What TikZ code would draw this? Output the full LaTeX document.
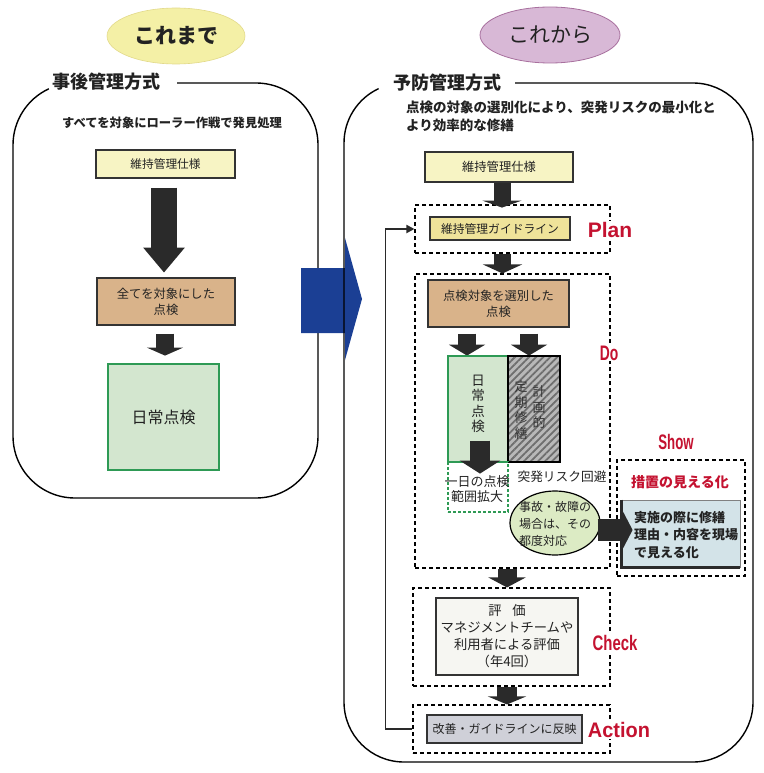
\documentclass[tikz,border=0pt]{standalone}
\usepackage{fontspec}
\usepackage{graphicx}
\setmainfont{Noto Sans CJK JP}
\newfontfamily\lat{Liberation Sans}
\usetikzlibrary{shapes.geometric,patterns.meta,arrows.meta}
\definecolor{txt}{HTML}{222222}
\definecolor{boxln}{HTML}{333333}
\definecolor{arrowc}{HTML}{2A2A2A}
\definecolor{yell}{HTML}{F4F0A6}
\definecolor{yellbd}{HTML}{E2D98A}
\definecolor{purp}{HTML}{D8B8D6}
\definecolor{purpbd}{HTML}{A8709E}
\definecolor{ltyell}{HTML}{F7F4C4}
\definecolor{gdyell}{HTML}{EFE39A}
\definecolor{tanc}{HTML}{D9B38A}
\definecolor{ltgrn}{HTML}{D3E6CF}
\definecolor{grn}{HTML}{2E9A55}
\definecolor{bluearr}{HTML}{1B3F94}
\definecolor{pdcared}{HTML}{C41230}
\definecolor{ltblue}{HTML}{D3E3E8}
\definecolor{actgray}{HTML}{CFD0D8}
\definecolor{evalc}{HTML}{F6F6F2}
\definecolor{ellgrn}{HTML}{DCEBC4}
\definecolor{hatchbg}{HTML}{B8B8B8}
\definecolor{hatchln}{HTML}{6E6E6E}
\begin{document}
\begin{tikzpicture}[x=1pt,y=-1pt,
  every node/.style={inner sep=0pt, text=txt},
  frame/.style={draw=black, line width=1.4pt},
  box/.style={draw=boxln, line width=1.2pt, align=center, font=\fontsize{12.3}{16}\selectfont},
  dbox/.style={draw=black, dash pattern=on 4pt off 3pt, line width=1.1pt},
  pdca/.style={fill=white, inner sep=1pt, text=pdcared, font=\lat\bfseries\fontsize{21}{21}\selectfont},
  blk/.style n args={3}{draw=arrowc, line width=#1, -{Triangle[width=#2,length=#3]}},
]
\useasboundingbox (0,0) rectangle (763,773);

% ================= LEFT =================
\node[ellipse, fill=yell, draw=yellbd, line width=0.6pt, minimum width=138, minimum height=56,
      font=\bfseries\fontsize{21}{21}\selectfont] (e1) at (176,36) {これまで};
\node[anchor=west, font=\bfseries\fontsize{18}{18}\selectfont] (t1) at (52,82) {事後管理方式};
\draw[frame] (177,83) -- (256,83) arc[start angle=-90,end angle=0,radius=62]
  -- (318,436) arc[start angle=0,end angle=90,radius=62]
  -- (75,498) arc[start angle=90,end angle=180,radius=62]
  -- (13,145) arc[start angle=180,end angle=245,radius=62];
\node[font=\bfseries\fontsize{12.3}{14}\selectfont] (s1) at (172,123) {すべてを対象にローラー作戦で発見処理};
\node[box, fill=ltyell, minimum width=139, minimum height=28, font=\fontsize{11.7}{14}\selectfont] (spec1) at (165.5,164) {維持管理仕様};
\node[box, fill=tanc, minimum width=138, minimum height=47] (insp1) at (166,301.5) {全てを対象にした\\点検};
\node[box, draw=grn, fill=ltgrn, minimum width=111, minimum height=106, font=\fontsize{16}{18}\selectfont] (daily1) at (163.5,417) {日常点検};
\draw[blk={26pt}{40pt}{25pt}] ([xshift=-1.5pt]spec1.south) ++(0,9) -- ++(0,85);
\draw[blk={18pt}{36pt}{8pt}] ([xshift=-1pt]insp1.south) ++(0,8) -- ++(0,22);

% ================= BIG BLUE ARROW =================
\fill[bluearr] (301,268) -- (345,268) -- (345,238) -- (362,299) -- (345,360) -- (345,333) -- (301,333) -- cycle;

% ================= RIGHT =================
\node[ellipse, fill=purp, draw=purpbd, line width=0.8pt, minimum width=140, minimum height=56,
      font=\fontsize{21}{21}\selectfont] (e2) at (550,35) {これから};
\node[anchor=west, font=\bfseries\fontsize{18}{18}\selectfont] (t2) at (393,83) {予防管理方式};
\draw[frame] (515,83) -- (693,83) arc[start angle=-90,end angle=0,radius=60]
  -- (753,702) arc[start angle=0,end angle=90,radius=60]
  -- (404,762) arc[start angle=90,end angle=180,radius=60]
  -- (344,143) arc[start angle=180,end angle=245,radius=60];
\node[anchor=north west, align=left, font=\bfseries\fontsize{13.5}{18}\selectfont] (s2) at (406,101)
  {点検の対象の選別化により、突発リスクの最小化と\\より効率的な修繕};

\node[box, fill=ltyell, minimum width=148, minimum height=30] (spec2) at (499,167) {維持管理仕様};

% Plan
\node[dbox, minimum width=195, minimum height=48] (planD) at (512.5,229) {};
\node[box, fill=gdyell, minimum width=140, minimum height=23, font=\fontsize{11.8}{14}\selectfont] (guide) at (500,228.5) {維持管理ガイドライン};
\node[pdca] (plan) at (610,230) {Plan};
\draw[blk={17pt}{39pt}{7pt}] ([xshift=3pt]spec2.south) -- ++(0,25);

% Do
\node[dbox, minimum width=195, minimum height=294] (doD) at (512.5,421) {};
\node[pdca] (do) at (609,353) {\scalebox{0.66}[1]{Do}};
\draw[blk={17pt}{39pt}{9pt}] ([xshift=-10pt]planD.south) -- ([xshift=-10pt]doD.north);
\node[box, fill=tanc, minimum width=141, minimum height=47] (insp2) at (498.5,303.5) {点検対象を選別した\\点検};
\draw[blk={18pt}{36pt}{11pt}] ([xshift=-31.5pt]insp2.south) ++(0,6) -- ++(0,22);
\draw[blk={18pt}{36pt}{11pt}] ([xshift=30.5pt]insp2.south) ++(0,6) -- ++(0,22);

\node[draw=grn, line width=1.2pt, fill=ltgrn, minimum width=60, minimum height=106] (daily2) at (478,409) {};
\node[align=center, font=\fontsize{13.5}{15.5}\selectfont] (daily2t) at (478,404) {日\\常\\点\\検};
\node[draw=black, line width=1.2pt, minimum width=52, minimum height=106,
      preaction={fill=hatchbg},
      pattern={Lines[angle=45,distance=5pt,line width=1.8pt]}, pattern color=hatchln] (hatch) at (534,409) {};
\node[align=center, text=black!80, font=\fontsize{13}{15.5}\selectfont] (hatchR) at (539,407) {計\\画\\的};
\node[align=center, text=black!80, font=\fontsize{13}{15.5}\selectfont] (hatchL) at (521,410) {定\\期\\修\\繕};

\node[draw=grn, dash pattern=on 3pt off 2pt, line width=1.1pt, minimum width=60, minimum height=50] (extD) at (478,487) {};
\node[align=center, font=\fontsize{13}{15}\selectfont] (extT) at (477,489.5) {一日の点検\\範囲拡大};
\draw[blk={20pt}{40pt}{13pt}] ([xshift=2pt]daily2.south) ++(0,-22) -- ++(0,33);

\node[font=\fontsize{12.7}{14}\selectfont] (risk) at (562,477) {突発リスク回避};
\node[ellipse, draw=black, line width=1.2pt, fill=ellgrn, minimum width=90, minimum height=64] (ell3) at (555,523) {};
\node[align=left, font=\fontsize{12}{17}\selectfont] (ell3t) at (555,524) {事故・故障の\\場合は、その\\都度対応};

% Show
\node[pdca] (show) at (676,442) {\scalebox{0.63}[1]{Show}};
\node[dbox, minimum width=128, minimum height=116] (showD) at (681,518) {};
\node[text=pdcared, font=\bfseries\fontsize{14}{14}\selectfont] (showT) at (680,482) {措置の見える化};
\node[fill=ltblue, draw=gray, line width=0.6pt, minimum width=118, minimum height=67] (showB) at (681,533.5) {};
\draw[line width=3pt, arrowc] (showB.north west) -- (showB.south west) -- (showB.south east);
\node[anchor=west, align=left, font=\bfseries\fontsize{13}{17.5}\selectfont] (showTxt) at (634,535)
  {実施の際に修繕\\理由・内容を現場\\で見える化};
\draw[blk={22pt}{38pt}{10pt}] (ell3.east) ++(-3,7) -- ++(35,0);

% Check
\node[dbox, minimum width=197, minimum height=98] (checkD) at (511.5,637) {};
\node[pdca] (check) at (615,643) {\scalebox{0.71}[1]{Check}};
\draw[blk={19pt}{37pt}{10pt}] ([xshift=-5.5pt]doD.south) -- ([xshift=-4.5pt]checkD.north);
\node[box, fill=evalc, minimum width=142, minimum height=77, font=\fontsize{13.3}{17}\selectfont] (eval) at (507,636.5)
  {評\hspace{0.8em}価\\マネジメントチームや\\利用者による評価\\（年4回）};

% Action
\node[dbox, minimum width=197, minimum height=48] (actD) at (511.5,729) {};
\node[box, fill=actgray, minimum width=155, minimum height=28, font=\fontsize{12}{14}\selectfont] (kaizen) at (504.5,729) {改善・ガイドラインに反映};
\node[pdca] (action) at (619,730) {\scalebox{0.95}[1]{Action}};
\draw[blk={20pt}{38pt}{8pt}] ([xshift=-4.5pt]checkD.south) -- ([xshift=-4.5pt]actD.north);

% feedback loop
\draw[draw=arrowc, line width=1.8pt, -{Triangle[width=8pt,length=8pt]}] (actD.west) -- ++(-27,0) |- (planD.west);
\end{tikzpicture}
\end{document}
